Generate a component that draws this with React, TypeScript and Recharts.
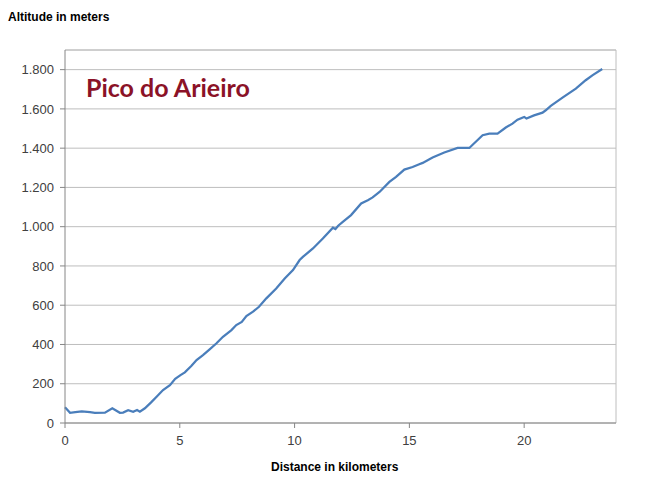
import React from "react";
import { LineChart, Line, XAxis, YAxis, CartesianGrid, ReferenceLine } from "recharts";

const distanceKm = [
  0, 0.22, 0.45, 0.73, 1.09, 1.3, 1.74, 2.06, 2.39, 2.53, 2.75, 2.97, 3.14, 3.26, 3.48,
  3.75, 3.99, 4.27, 4.57, 4.8, 5.03, 5.22, 5.5, 5.73, 6.01, 6.3, 6.6, 6.88, 7.25, 7.46,
  7.7, 7.9, 8.19, 8.45, 8.77, 9.2, 9.57, 9.93, 10.22, 10.36, 10.8, 11.23, 11.67, 11.78,
  11.9, 12.1, 12.46, 12.9, 13.19, 13.4, 13.7, 14.13, 14.42, 14.78, 15.14, 15.43, 15.58,
  16.01, 16.52, 17.1, 17.61, 18.19, 18.48, 18.84, 19.2, 19.49, 19.71, 20.0, 20.1, 20.43,
  20.8, 20.94, 21.16, 21.67, 22.25, 22.68, 22.97, 23.4,
];
const altitudeM = [
  80, 52, 55, 59, 55, 52, 53, 75, 52, 53, 65, 57, 66, 58, 75,
  105, 134, 168, 193, 225, 244, 258, 290, 321, 346, 375, 406, 439, 473, 499,
  515, 545, 567, 592, 635, 685, 736, 779, 830, 846, 889, 940, 995, 988,
  1005, 1025, 1059, 1118, 1135, 1149, 1177, 1228, 1254, 1291, 1304, 1318, 1325,
  1352, 1378, 1401, 1401, 1466, 1474, 1474, 1505, 1525, 1545, 1559, 1551, 1567,
  1581, 1593, 1615, 1657, 1703, 1746, 1771, 1803,
];
const xTicks = [0, 5, 10, 15, 20];
const yTicks = [0, 200, 400, 600, 800, 1000, 1200, 1400, 1600, 1800];

const data = distanceKm.map((d, i) => ({ km: d, alt: altitudeM[i] }));

const fmtY = (v: number) =>
  v >= 1000 ? `${Math.floor(v / 1000)}.${String(v % 1000).padStart(3, "0")}` : String(v);

const tickStyle = { fill: "#404040", fontSize: 13, fontFamily: "Arial, 'Liberation Sans', sans-serif" };

export default function App() {
  return (
    <div style={{ position: "absolute", left: 0, top: 0, width: 649, height: 494, background: "#fff" }}>
      <LineChart
        width={649}
        height={494}
        data={data}
        margin={{ top: 50, right: 33, bottom: 41, left: 10 }}
      >
        <CartesianGrid vertical={false} stroke="#BEBEBE" strokeWidth={1} />
        <ReferenceLine y={1900} stroke="#BEBEBE" strokeWidth={1} />
        <ReferenceLine x={24} stroke="#BEBEBE" strokeWidth={1} />
        <XAxis
          dataKey="km"
          type="number"
          domain={[0, 24]}
          ticks={xTicks}
          height={30}
          stroke="#868686"
          tickSize={5}
          tickMargin={8}
          tick={tickStyle}
        />
        <YAxis
          type="number"
          domain={[0, 1900]}
          ticks={yTicks}
          width={55}
          stroke="#868686"
          tickSize={5}
          tickMargin={6}
          tickFormatter={fmtY}
          tick={tickStyle}
        />
        <Line
          type="linear"
          dataKey="alt"
          stroke="#4A7EBB"
          strokeWidth={2.25}
          dot={false}
          isAnimationActive={false}
        />
      </LineChart>
      <div
        style={{
          position: "absolute",
          left: 8,
          top: 10,
          fontFamily: "Arial, 'Liberation Sans', sans-serif",
          fontWeight: "bold",
          fontSize: 12,
          color: "#000",
          whiteSpace: "nowrap",
        }}
      >
        Altitude in meters
      </div>
      <div
        style={{
          position: "absolute",
          left: 271,
          top: 460,
          fontFamily: "Arial, 'Liberation Sans', sans-serif",
          fontWeight: "bold",
          fontSize: 12,
          color: "#000",
          whiteSpace: "nowrap",
        }}
      >
        Distance in kilometers
      </div>
      <div
        style={{
          position: "absolute",
          left: 86,
          top: 72,
          fontFamily: "Lato, 'Open Sans', sans-serif",
          fontWeight: "bold",
          fontSize: 25,
          color: "#8B1227",
          whiteSpace: "nowrap",
        }}
      >
        Pico do Arieiro
      </div>
    </div>
  );
}
